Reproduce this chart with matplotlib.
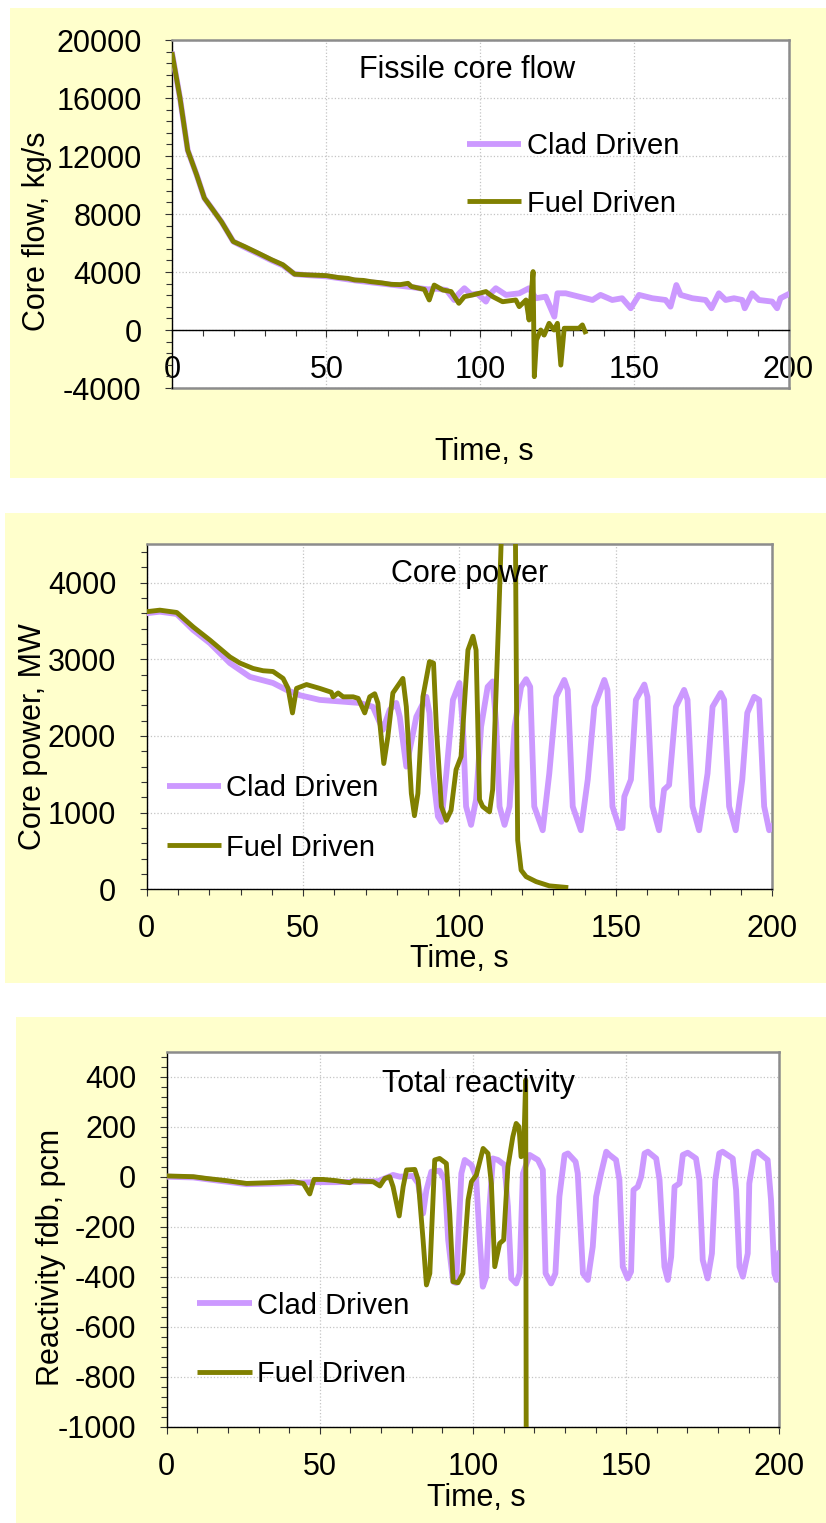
import matplotlib
matplotlib.use('Agg')
import matplotlib.pyplot as plt
from matplotlib.patches import Rectangle
from matplotlib.lines import Line2D
from matplotlib.ticker import MultipleLocator

plt.rcParams['font.family'] = ['Liberation Sans', 'DejaVu Sans']
plt.rcParams['axes.unicode_minus'] = False

# ---------------- data ----------------
series_labels = ['Clad Driven', 'Fuel Driven']
titles = ['Fissile core flow', 'Core power', 'Total reactivity']
ylabels = ['Core flow, kg/s', 'Core power, MW', 'Reactivity fdb, pcm']
xlabel = 'Time, s'

# Panel 1: core flow (kg/s)
flow_fuel_t = [0, 2.5, 5, 7.9, 10.4, 12.8, 16, 19.8, 23.5, 27.9, 32.2, 35.9, 39.7, 44.1, 50,
               53.8, 57, 59.2, 62, 64.6, 68, 71, 74, 76.5, 77.6, 81.8, 83.4, 85, 87.8, 90.5,
               93, 94.8, 97.5, 101.8, 104, 107.2, 111.5, 112.6, 114.8, 115.8, 117.1, 117.5,
               118.2, 119.6, 120.7, 122.3, 123.9, 125, 126.1, 127.2, 129.9, 132, 133.1, 134]
flow_fuel_v = [19000, 16000, 12400, 10700, 9100, 8400, 7450, 6100, 5750, 5300, 4850, 4500, 3850,
               3800, 3750, 3620, 3560, 3450, 3420, 3330, 3250, 3150, 3130, 3220, 3000, 2800,
               2070, 3100, 2760, 2650, 1840, 2300, 2420, 2650, 2300, 1950, 2070, 1610, 2070,
               690, 4030, -3220, -690, 0, -350, 460, 0, 460, -2420, 120, 120, 120, 350, -120]
flow_clad_t = [0, 2.5, 5, 7.9, 10.4, 12.8, 16, 19.8, 23.5, 27.9, 32.2, 35.9, 39.7, 44.1, 50,
               55, 60, 66, 72, 78, 80.2, 83, 86, 89, 91.5, 93, 94.8, 97, 99, 101.8, 103, 105,
               108.3, 112.6, 115.8, 118, 121.2, 124, 125, 127.7, 132, 136.4, 139, 142.8, 146,
               148.8, 151.5, 155.8, 160.1, 161.7, 163.6, 165, 168.8, 173.1, 175, 177.4, 179.6,
               182.3, 185, 185.8, 188.2, 190.4, 194.7, 196.3, 197.4, 199.5]
flow_clad_v = [19000, 16000, 12400, 10700, 9100, 8400, 7450, 6100, 5700, 5250, 4800, 4450, 3850,
               3780, 3700, 3550, 3400, 3250, 3100, 2950, 2880, 2800, 2850, 2750, 2070, 2500,
               2880, 2450, 2500, 1960, 2450, 2880, 2420, 2530, 2880, 2190, 2300, 920, 2530,
               2530, 2300, 2070, 2420, 2070, 2190, 1500, 2420, 2190, 2070, 1610, 3100, 2420,
               2190, 2070, 1500, 2530, 2070, 2190, 2070, 1500, 2530, 2070, 1960, 1500, 2190, 2420]

# Panel 2: core power (MW)
pow_fuel_t = [0, 4.2, 9.6, 14.9, 20.2, 26.6, 29.8, 34, 37.2, 40.4, 43.6, 45.2, 46.6, 47.9, 51.1,
              55.3, 59, 59.6, 61.2, 62.8, 66, 67.6, 69.7, 71.3, 72.9, 73.9, 75.8, 77.1, 78.7,
              81.9, 83, 84.6, 85.6, 86.7, 88.3, 90.4, 91.7, 92.6, 94.2, 95.8, 97.3, 98.9, 100.5,
              101.1, 102.7, 104.3, 105.3, 106.4, 107.4, 109.6, 110.6, 111.9, 112.5, 113.3,
              114.5, 116, 117.2, 117.9, 118.3, 118.6, 119.7, 121.3, 124.5, 128.7, 134]
pow_fuel_v = [3620, 3640, 3610, 3420, 3250, 3030, 2950, 2880, 2850, 2840, 2750, 2620, 2300, 2620,
              2670, 2620, 2570, 2510, 2560, 2510, 2510, 2490, 2300, 2510, 2550, 2430, 1640, 1990,
              2560, 2750, 2380, 1250, 960, 1250, 2510, 2970, 2950, 2120, 1080, 900, 1030, 1560,
              1730, 2120, 3120, 3300, 3120, 1170, 1080, 1010, 1300, 2820, 3500, 4500, 8000,
              12000, 9000, 4500, 2000, 640, 250, 165, 100, 45, 25]
pow_clad_t = [0, 4.2, 9.6, 14.9, 20.2, 26.6, 33, 40.4, 44.7, 49, 55.3, 61.7, 68.1, 72.3, 75.5,
              77.7, 79.8, 80.9, 83, 86.2, 89.4, 90.4, 91.5, 93.1, 94.2, 95.8, 97.9, 100, 101.1,
              102.1, 103.7, 105.3, 106.9, 109, 110.6, 111.7, 112.8, 114.4, 116, 117.6, 119.7,
              121.3, 122.6, 123.9, 126.6, 128.7, 130.9, 133.5, 134.6, 136.2, 138.8, 141, 143.1,
              146.3, 147.3, 148.9, 151.1, 152.1, 152.7, 154.8, 156.4, 159.1, 160.1, 161.7,
              163.8, 165.4, 167, 169.2, 171.8, 172.9, 174.5, 176.6, 179.3, 180.9, 183.5, 184.6,
              186.2, 188.3, 190.4, 192, 194.2, 195.8, 197.4, 199, 200]
pow_clad_v = [3600, 3620, 3590, 3380, 3210, 2950, 2770, 2690, 2600, 2530, 2470, 2450, 2430, 2380,
              2080, 2340, 2430, 2250, 1600, 2250, 2510, 2300, 1510, 950, 880, 1510, 2470, 2690,
              2120, 1080, 840, 1170, 2120, 2640, 2710, 2170, 1080, 840, 1080, 2120, 2640, 2740,
              2640, 1080, 770, 1510, 2510, 2730, 2600, 1080, 770, 1430, 2380, 2730, 2600, 1080,
              800, 800, 1210, 1430, 2470, 2670, 2510, 1080, 770, 1300, 1360, 2380, 2600, 2470,
              1080, 770, 1510, 2380, 2560, 2470, 1080, 770, 1430, 2300, 2510, 2470, 1080, 770, 820]

# Panel 3: total reactivity (pcm)
rho_fuel_t = [0, 8.7, 13, 19.6, 26.1, 33.7, 41.3, 44.6, 46.7, 48.1, 51.1, 55.4, 59.8, 60.9, 67.4,
              69.6, 71.2, 72.8, 73.9, 75.9, 77.2, 78.3, 81, 82.1, 83.7, 84.8, 85.9, 87.5, 89.1,
              91.3, 92.4, 93.5, 95.1, 96.7, 98.4, 99.5, 101.1, 103.3, 104.9, 106, 107.1, 108.7,
              110, 111.4, 113, 114.1, 115, 115.7, 116.5, 117.2, 117.6]
rho_fuel_v = [3, 0, -7, -16, -27, -24, -20, -27, -69, -11, -11, -16, -24, -16, -20, -37, -7, 0,
              -40, -157, -40, 27, 29, -13, -253, -433, -387, 67, 73, 53, -147, -420, -424, -387,
              -93, -20, 7, 113, 93, -27, -360, -267, -253, 40, 160, 213, 200, 80, 87, 387, -3000]
rho_clad_t = [0, 8.7, 13, 19.6, 26.1, 33.7, 41.3, 48, 55, 62, 69, 73.9, 76.1, 80.4, 82.1, 83.7,
              84.8, 86.4, 89.1, 90.8, 91.9, 93.5, 94.5, 96.2, 97.3, 99.5, 101, 102.2, 103.2,
              104.3, 105.4, 106.5, 108.1, 110.3, 111.4, 112.5, 114.1, 115.2, 116.3, 118.5,
              121.2, 122.8, 123.7, 125.5, 126.9, 128.2, 129.9, 131, 133.5, 134.2, 135.9, 137.5,
              139.1, 140.2, 141.8, 143.5, 144.6, 146.7, 147.8, 148.9, 150.5, 151.6, 152.4,
              153.8, 154.9, 156, 157.1, 159.8, 160.9, 162.5, 163.6, 164.7, 165.8, 167.4, 168.5,
              170.1, 172.8, 173.9, 175, 176.6, 178, 179.1, 180.4, 181.5, 184.8, 185.9, 187,
              188.1, 189.7, 190.2, 191.8, 192.9, 196.2, 197.3, 198.4, 199.1, 200]
rho_clad_v = [0, -3, -10, -20, -30, -28, -25, -22, -22, -20, -18, 7, 0, 3, -27, -147, -53, 20, 24,
              -13, -253, -420, -425, 13, 67, 47, 0, -253, -440, -400, -120, 73, 67, 47, -120,
              -407, -427, -387, 13, 87, 67, 27, -387, -427, -387, -80, 87, 93, 60, 13, -387,
              -413, -280, -80, 13, 100, 87, 67, -13, -360, -407, -380, -53, -40, 0, 93, 100, 73,
              -13, -360, -413, -320, -40, -27, 87, 96, 73, -13, -333, -407, -307, -13, 93, 100,
              73, -53, -360, -400, -307, -27, 93, 100, 67, -93, -387, -413, -307]

for a, b in [(flow_fuel_t, flow_fuel_v), (flow_clad_t, flow_clad_v), (pow_fuel_t, pow_fuel_v),
             (pow_clad_t, pow_clad_v), (rho_fuel_t, rho_fuel_v), (rho_clad_t, rho_clad_v)]:
    assert len(a) == len(b), (len(a), len(b))

# ---------------- style ----------------
YELLOW = '#FFFFCC'
CLAD = '#CC99FF'
FUEL = '#808000'
GRAY = '#8c8c8c'
W, H = 826, 1523
FS = 22
LW_CLAD = 4.2
LW_FUEL = 3.5

fig = plt.figure(figsize=(W / 100, H / 100), dpi=100)
fig.patch.set_facecolor('white')


def fx(px):
    return px / W


def fy(py):
    return 1 - py / H


def add_bg(x0, y0, x1, y1):
    fig.add_artist(Rectangle((fx(x0), fy(y1)), fx(x1) - fx(x0), fy(y0) - fy(y1),
                             transform=fig.transFigure, facecolor=YELLOW,
                             edgecolor='none', zorder=-10))


def make_ax(l, t, r, b):
    return fig.add_axes([fx(l), fy(b), fx(r) - fx(l), fy(t) - fy(b)])


def style(ax, ylim, ymaj, ymin_, zero_axis=False):
    ax.set_xlim(0, 200)
    ax.set_ylim(*ylim)
    ax.set_facecolor('white')
    ax.xaxis.set_major_locator(MultipleLocator(50))
    ax.xaxis.set_minor_locator(MultipleLocator(10))
    ax.yaxis.set_major_locator(MultipleLocator(ymaj))
    ax.yaxis.set_minor_locator(MultipleLocator(ymin_))
    ax.grid(True, which='major', color='#c4c4c4', linestyle=':', linewidth=0.9)
    ax.set_axisbelow(True)
    for s in ['top', 'right']:
        ax.spines[s].set_color(GRAY)
        ax.spines[s].set_linewidth(1.8)
    ax.spines['left'].set_color('black')
    ax.spines['left'].set_linewidth(1.0)
    ax.spines['bottom'].set_color('black')
    ax.spines['bottom'].set_linewidth(1.0)
    if zero_axis:
        ax.spines['bottom'].set_position(('data', 0))
        ax.add_line(Line2D([0, 1], [0, 0], transform=ax.transAxes, color=GRAY,
                           linewidth=1.8, clip_on=False))
    ax.tick_params(axis='both', which='both', direction='out', color='#333333',
                   labelsize=FS, width=0.8)
    ax.tick_params(axis='y', which='major', length=5, pad=17)
    ax.tick_params(axis='y', which='minor', length=4)
    ax.tick_params(axis='x', which='major', length=5, pad=13)
    ax.tick_params(axis='x', which='minor', length=4.5)


def legend(x0, x1, xt, y_clad, y_fuel):
    for y, c, lw, lab in [(y_clad, CLAD, LW_CLAD, series_labels[0]),
                          (y_fuel, FUEL, LW_FUEL, series_labels[1])]:
        fig.add_artist(Line2D([fx(x0), fx(x1)], [fy(y), fy(y)], transform=fig.transFigure,
                              color=c, linewidth=lw, solid_capstyle='butt'))
        fig.text(fx(xt), fy(y + 10.5), lab, ha='left', va='baseline', fontsize=21)


# ---------------- panel 1 ----------------
add_bg(10, 8, 826, 478)
ax1 = make_ax(172.3, 40, 788.5, 388)
style(ax1, (-4000, 20000), 4000, 800, zero_axis=True)
ax1.plot(flow_clad_t, flow_clad_v, color=CLAD, lw=LW_CLAD, zorder=3)
ax1.plot(flow_fuel_t, flow_fuel_v, color=FUEL, lw=LW_FUEL, zorder=4)
fig.text(fx(467), fy(78), titles[0], ha='center', va='baseline', fontsize=FS)
fig.text(fx(37), fy(231), ylabels[0], rotation=90, ha='center', va='center', fontsize=FS)
fig.text(fx(484), fy(460), xlabel, ha='center', va='baseline', fontsize=FS)
legend(467, 521, 527, 144, 201)

# ---------------- panel 2 ----------------
add_bg(5, 513, 826, 983)
ax2 = make_ax(146.7, 544.2, 772.3, 889.3)
style(ax2, (0, 4500), 1000, 200)
ax2.plot(pow_clad_t, pow_clad_v, color=CLAD, lw=LW_CLAD, zorder=3)
ax2.plot(pow_fuel_t, pow_fuel_v, color=FUEL, lw=LW_FUEL, zorder=4)
fig.text(fx(470), fy(582), titles[1], ha='center', va='baseline', fontsize=FS)
fig.text(fx(33), fy(737), ylabels[1], rotation=90, ha='center', va='center', fontsize=FS)
fig.text(fx(459), fy(967), xlabel, ha='center', va='baseline', fontsize=FS)
legend(167, 221, 226, 786, 845)

# ---------------- panel 3 ----------------
add_bg(16, 1017, 826, 1523)
ax3 = make_ax(166.7, 1051.7, 779.3, 1426.7)
style(ax3, (-1000, 500), 200, 40)
ax3.plot(rho_clad_t, rho_clad_v, color=CLAD, lw=LW_CLAD, zorder=3)
ax3.plot(rho_fuel_t, rho_fuel_v, color=FUEL, lw=LW_FUEL, zorder=4)
fig.text(fx(478), fy(1092), titles[2], ha='center', va='baseline', fontsize=FS)
fig.text(fx(51), fy(1257), ylabels[2], rotation=90, ha='center', va='center', fontsize=FS)
fig.text(fx(476), fy(1506), xlabel, ha='center', va='baseline', fontsize=FS)
legend(197, 252, 257, 1303, 1372)

fig.savefig('out.png', dpi=100, facecolor='white')
